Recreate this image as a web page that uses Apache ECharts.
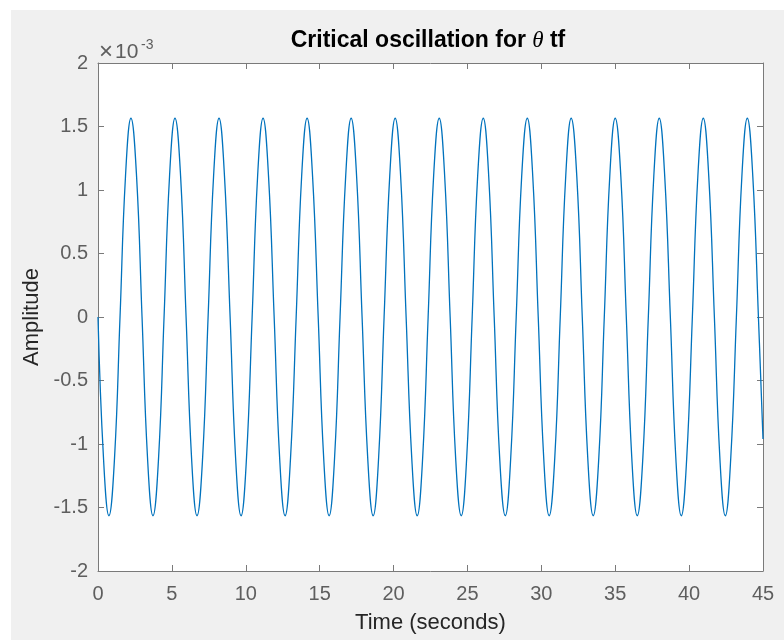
<!DOCTYPE html>
<html>
<head>
<meta charset="utf-8">
<script src="https://cdn.jsdelivr.net/npm/echarts@6/dist/echarts.min.js"></script>
<style>
html,body{margin:0;padding:0;background:#fff;}
#chart{width:784px;height:640px;background:#f0f0f0;box-shadow:inset 11px 10px 0 #ffffff;}
</style>
</head>
<body>
<div id="chart"></div>
<script>
// Time samples (seconds) at zero crossings, peaks, troughs and between
const timeSec = [0,0.37,0.74,1.12,1.49,1.86,2.23,2.61,2.98,3.35,3.72,4.10,4.47,4.84,5.21,5.59,5.96,6.33,6.70,7.08,7.45,7.82,8.19,8.56,8.94,9.31,9.68,10.05,10.43,10.80,11.17,11.54,11.92,12.29,12.66,13.03,13.41,13.78,14.15,14.52,14.90,15.27,15.64,16.01,16.38,16.76,17.13,17.50,17.87,18.25,18.62,18.99,19.36,19.74,20.11,20.48,20.85,21.23,21.60,21.97,22.34,22.71,23.09,23.46,23.83,24.20,24.58,24.95,25.32,25.69,26.07,26.44,26.81,27.18,27.56,27.93,28.30,28.67,29.05,29.42,29.79,30.16,30.53,30.91,31.28,31.65,32.02,32.40,32.77,33.14,33.51,33.89,34.26,34.63,35.00,35.38,35.75,36.12,36.49,36.87,37.24,37.61,37.98,38.35,38.73,39.10,39.47,39.84,40.22,40.59,40.96,41.33,41.71,42.08,42.45,42.82,43.20,43.57,43.94,44.31,44.69,45];
// Amplitude in units of 1e-3
const amplitude = [0,-1.107,-1.565,-1.107,0,1.107,1.565,1.107,
0,-1.107,-1.565,-1.107,0,1.107,1.565,1.107,
0,-1.107,-1.565,-1.107,0,1.107,1.565,1.107,
0,-1.107,-1.565,-1.107,0,1.107,1.565,1.107,
0,-1.107,-1.565,-1.107,0,1.107,1.565,1.107,
0,-1.107,-1.565,-1.107,0,1.107,1.565,1.107,
0,-1.107,-1.565,-1.107,0,1.107,1.565,1.107,
0,-1.107,-1.565,-1.107,0,1.107,1.565,1.107,
0,-1.107,-1.565,-1.107,0,1.107,1.565,1.107,
0,-1.107,-1.565,-1.107,0,1.107,1.565,1.107,
0,-1.107,-1.565,-1.107,0,1.107,1.565,1.107,
0,-1.107,-1.565,-1.107,0,1.107,1.565,1.107,
0,-1.107,-1.565,-1.107,0,1.107,1.565,1.107,
0,-1.107,-1.565,-1.107,0,1.107,1.565,1.107,
0,-1.107,-1.565,-1.107,0,1.107,1.565,1.107,
0,-0.96];
const xTicks = [0,5,10,15,20,25,30,35,40,45];
const yTicks = [-2,-1.5,-1,-0.5,0,0.5,1,1.5,2];

const axisCol = '#7a7a7a';
const labelCol = '#5e5e5e';
const font = 'Liberation Sans, Arial, Helvetica, sans-serif';

const chart = echarts.init(document.getElementById('chart'), null, {renderer:'canvas'});
const seriesData = timeSec.map((t,i)=>[t, amplitude[i]]);

const baseX = {
  type:'value', min:xTicks[0], max:xTicks[xTicks.length-1], interval:5,
  axisLine:{show:true, onZero:false, lineStyle:{color:axisCol, width:1}},
  axisTick:{show:true, inside:true, length:6, lineStyle:{color:axisCol}},
  splitLine:{show:false}
};
const baseY = {
  type:'value', min:yTicks[0], max:yTicks[yTicks.length-1], interval:0.5,
  axisLine:{show:true, onZero:false, lineStyle:{color:axisCol, width:1}},
  axisTick:{show:true, inside:true, length:6, lineStyle:{color:axisCol}},
  splitLine:{show:false}
};

chart.setOption({
  animation:false,
  title:{
    text:'Critical oscillation for {it|θ} tf',
    left:423, top:24, textAlign:'center',
    textStyle:{fontFamily:font, fontSize:23, fontWeight:'bold', color:'#000',
      rich:{it:{fontFamily:'Liberation Serif, Times New Roman, serif', fontStyle:'italic', fontSize:23, fontWeight:'normal', color:'#000'}}}
  },
  grid:{left:98, right:21, top:63, bottom:69, show:true, backgroundColor:'#ffffff', borderColor:'transparent'},
  xAxis:[
    Object.assign({}, baseX, {position:'bottom',
      axisLabel:{show:true, margin:13, fontSize:20, color:labelCol, fontFamily:font},
      name:'Time (seconds)', nameLocation:'middle', nameGap:41,
      nameTextStyle:{fontSize:22, color:'#262626', fontFamily:font}}),
    Object.assign({}, baseX, {position:'top', axisLabel:{show:false}})
  ],
  yAxis:[
    Object.assign({}, baseY, {position:'left',
      axisLabel:{show:true, margin:10, fontSize:20, color:labelCol, fontFamily:font},
      name:'Amplitude', nameLocation:'middle', nameGap:53,
      nameTextStyle:{fontSize:22, color:'#262626', fontFamily:font}}),
    Object.assign({}, baseY, {position:'right', axisLabel:{show:false}})
  ],
  graphic:[
    {type:'text', left:99, top:40, style:{text:'×', fontSize:24, fill:labelCol, fontFamily:font}},
    {type:'text', left:115, top:42, style:{text:'10', fontSize:21, fill:labelCol, fontFamily:font}},
    {type:'text', left:141, top:38, style:{text:'-3', fontSize:14, fill:labelCol, fontFamily:font}}
  ],
  series:[{
    type:'line', data:seriesData, smooth:0.45, showSymbol:false, symbol:'none',
    lineStyle:{color:'#0072BD', width:1.3}, xAxisIndex:0, yAxisIndex:0, clip:true
  }]
});
</script>
</body>
</html>
